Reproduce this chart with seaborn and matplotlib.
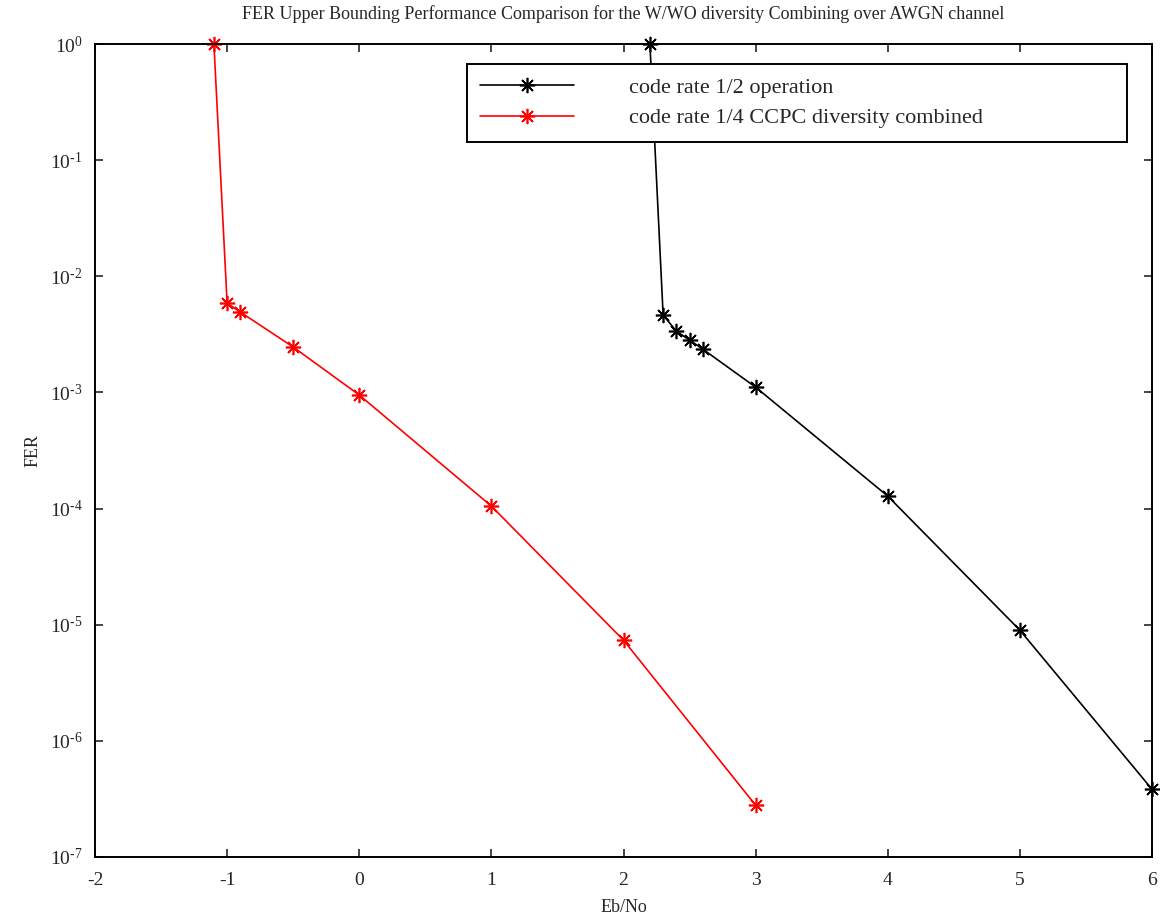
import matplotlib
matplotlib.use("Agg")
import matplotlib.pyplot as plt
import seaborn as sns
import numpy as np
import pandas as pd
from matplotlib.ticker import NullLocator, FuncFormatter

# Data
ebno_half = [2.2, 2.3, 2.4, 2.5, 2.6, 3, 4, 5, 6]
fer_half = [1.0, 4.63e-3, 3.37e-3, 2.82e-3, 2.36e-3, 1.11e-3, 1.28e-4, 8.97e-6, 3.83e-7]
ebno_quarter = [-1.1, -1.0, -0.9, -0.5, 0, 1, 2, 3]
fer_quarter = [1.0, 5.87e-3, 4.92e-3, 2.46e-3, 9.5e-4, 1.05e-4, 7.36e-6, 2.79e-7]
label_half = "code rate 1/2 operation"
label_quarter = "code rate 1/4 CCPC diversity combined"
title = "FER Upper Bounding Performance Comparison for the W/WO diversity Combining over AWGN channel"
xticks = [-2, -1, 0, 1, 2, 3, 4, 5, 6]
yticks = [1e-7, 1e-6, 1e-5, 1e-4, 1e-3, 1e-2, 1e-1, 1e0]

sns.set_style("ticks")
plt.rcParams["font.family"] = ["Liberation Serif", "DejaVu Serif"]
plt.rcParams["mathtext.fontset"] = "custom"
plt.rcParams["mathtext.rm"] = "Liberation Serif"
plt.rcParams["mathtext.it"] = "Liberation Serif:italic"
plt.rcParams["axes.unicode_minus"] = False
plt.rcParams["xtick.direction"] = "in"
plt.rcParams["ytick.direction"] = "in"

fig = plt.figure(figsize=(11.6, 9.18), dpi=100)
ax = fig.add_axes([95/1160, 61/918, 1057/1160, 813/918])

df_half = pd.DataFrame({"x": ebno_half, "y": fer_half})
df_quarter = pd.DataFrame({"x": ebno_quarter, "y": fer_quarter})
marker = (8, 2, 0)
sns.lineplot(data=df_half, x="x", y="y", ax=ax, sort=False, color="black",
             linewidth=1.2, marker=marker, markersize=11, markeredgewidth=1.2,
             markeredgecolor="black", label=label_half, clip_on=False)
sns.lineplot(data=df_quarter, x="x", y="y", ax=ax, sort=False, color="red",
             linewidth=1.2, marker=marker, markersize=11, markeredgewidth=1.2,
             markeredgecolor="red", label=label_quarter, clip_on=False)


def log_fmt(v, pos):
    e = int(round(np.log10(v)))
    if e < 0:
        return r"$\mathregular{10^{\text{-}%d}}$" % (-e)
    return r"$\mathregular{10^{%d}}$" % e


ax.set_yscale("log")
ax.set_xlim(-2, 6)
ax.set_ylim(1e-7, 1e0)
ax.set_xticks(xticks)
ax.set_xticklabels([str(t) for t in xticks])
ax.set_yticks(yticks)
ax.yaxis.set_major_formatter(FuncFormatter(log_fmt))
ax.yaxis.set_minor_locator(NullLocator())
ax.tick_params(axis="both", which="major", direction="in", length=6, width=1.2,
               top=True, right=True, labelsize=14)
ax.tick_params(axis="x", pad=11)
ax.tick_params(axis="y", pad=9)
for s in ax.spines.values():
    s.set_linewidth(1.4)
    s.set_color("black")

ax.set_xlabel("Eb/No", fontsize=13, labelpad=7)
ax.set_ylabel("FER", fontsize=13, labelpad=6)
ax.set_title(title, fontsize=13, pad=18)

leg = ax.legend(loc="upper left",
                bbox_to_anchor=(372/1057, (857-143)/813, 660/1057, 79/813),
                mode="expand", fontsize=16, frameon=True, fancybox=False,
                edgecolor="black", handlelength=4.2, handletextpad=2.5,
                borderpad=0.6, labelspacing=0.45, borderaxespad=0)
leg.get_frame().set_linewidth(1.4)
leg.get_frame().set_alpha(1)

fig.savefig("out.png", dpi=100)
